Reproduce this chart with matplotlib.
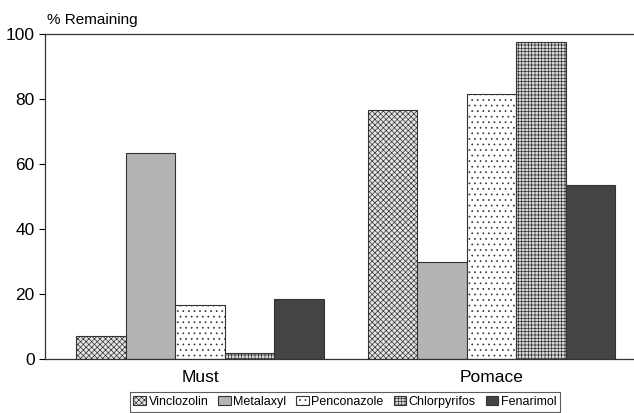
import matplotlib
matplotlib.use("Agg")
import matplotlib.pyplot as plt
import numpy as np

groups = ["Must", "Pomace"]
pesticides = ["Vinclozolin", "Metalaxyl", "Penconazole", "Chlorpyrifos", "Fenarimol"]
must = [7, 63.5, 16.5, 2, 18.5]
pomace = [76.5, 30, 81.5, 97.5, 53.5]
yticks = [0, 20, 40, 60, 80, 100]

faces = ["#e4e4e4", "#b4b4b4", "white", "#d8d8d8", "#444444"]
hatches = ["xxxxxx", "", "...", "+++++", ""]

plt.rcParams["font.family"] = ["Liberation Sans", "DejaVu Sans"]
plt.rcParams["hatch.linewidth"] = 0.5
plt.rcParams["hatch.color"] = "#666666"

fig = plt.figure(figsize=(6.34, 4.13), dpi=100)
ax = fig.add_axes([45 / 634, 1 - 359 / 413, 589 / 634, 325 / 413])

x = np.arange(len(groups))
w = 0.17
for i, name in enumerate(pesticides):
    vals = [must[i], pomace[i]]
    ax.bar(x + (i - 2) * w, vals, w, color=faces[i], hatch=hatches[i],
           edgecolor="#333333", linewidth=0.8, label=name)

ax.set_xlim(-0.533, 1.49)
ax.set_ylim(0, 100)
ax.set_yticks(yticks)
ax.set_xticks(x)
ax.set_xticklabels(groups, fontsize=12.5)
ax.tick_params(axis="x", length=0, pad=8)
ax.tick_params(axis="y", labelsize=12.5, length=4, width=0.8, direction="out")
ax.spines["right"].set_visible(False)
for s in ["top", "bottom", "left"]:
    ax.spines[s].set_linewidth(0.9)
    ax.spines[s].set_color("#333333")

fig.text(47 / 634, 1 - 20 / 413, "% Remaining", fontsize=11, va="center", ha="left")

leg = ax.legend(loc="upper center", bbox_to_anchor=(345 / 634, 1 - 392 / 413),
                bbox_transform=fig.transFigure, ncol=5, fontsize=9,
                frameon=True, fancybox=False, edgecolor="#333333",
                handlelength=1.0, handleheight=0.8, handletextpad=0.2,
                columnspacing=0.8, borderpad=0.3, borderaxespad=0)
leg.get_frame().set_linewidth(0.8)

fig.savefig("out.png", dpi=100)
